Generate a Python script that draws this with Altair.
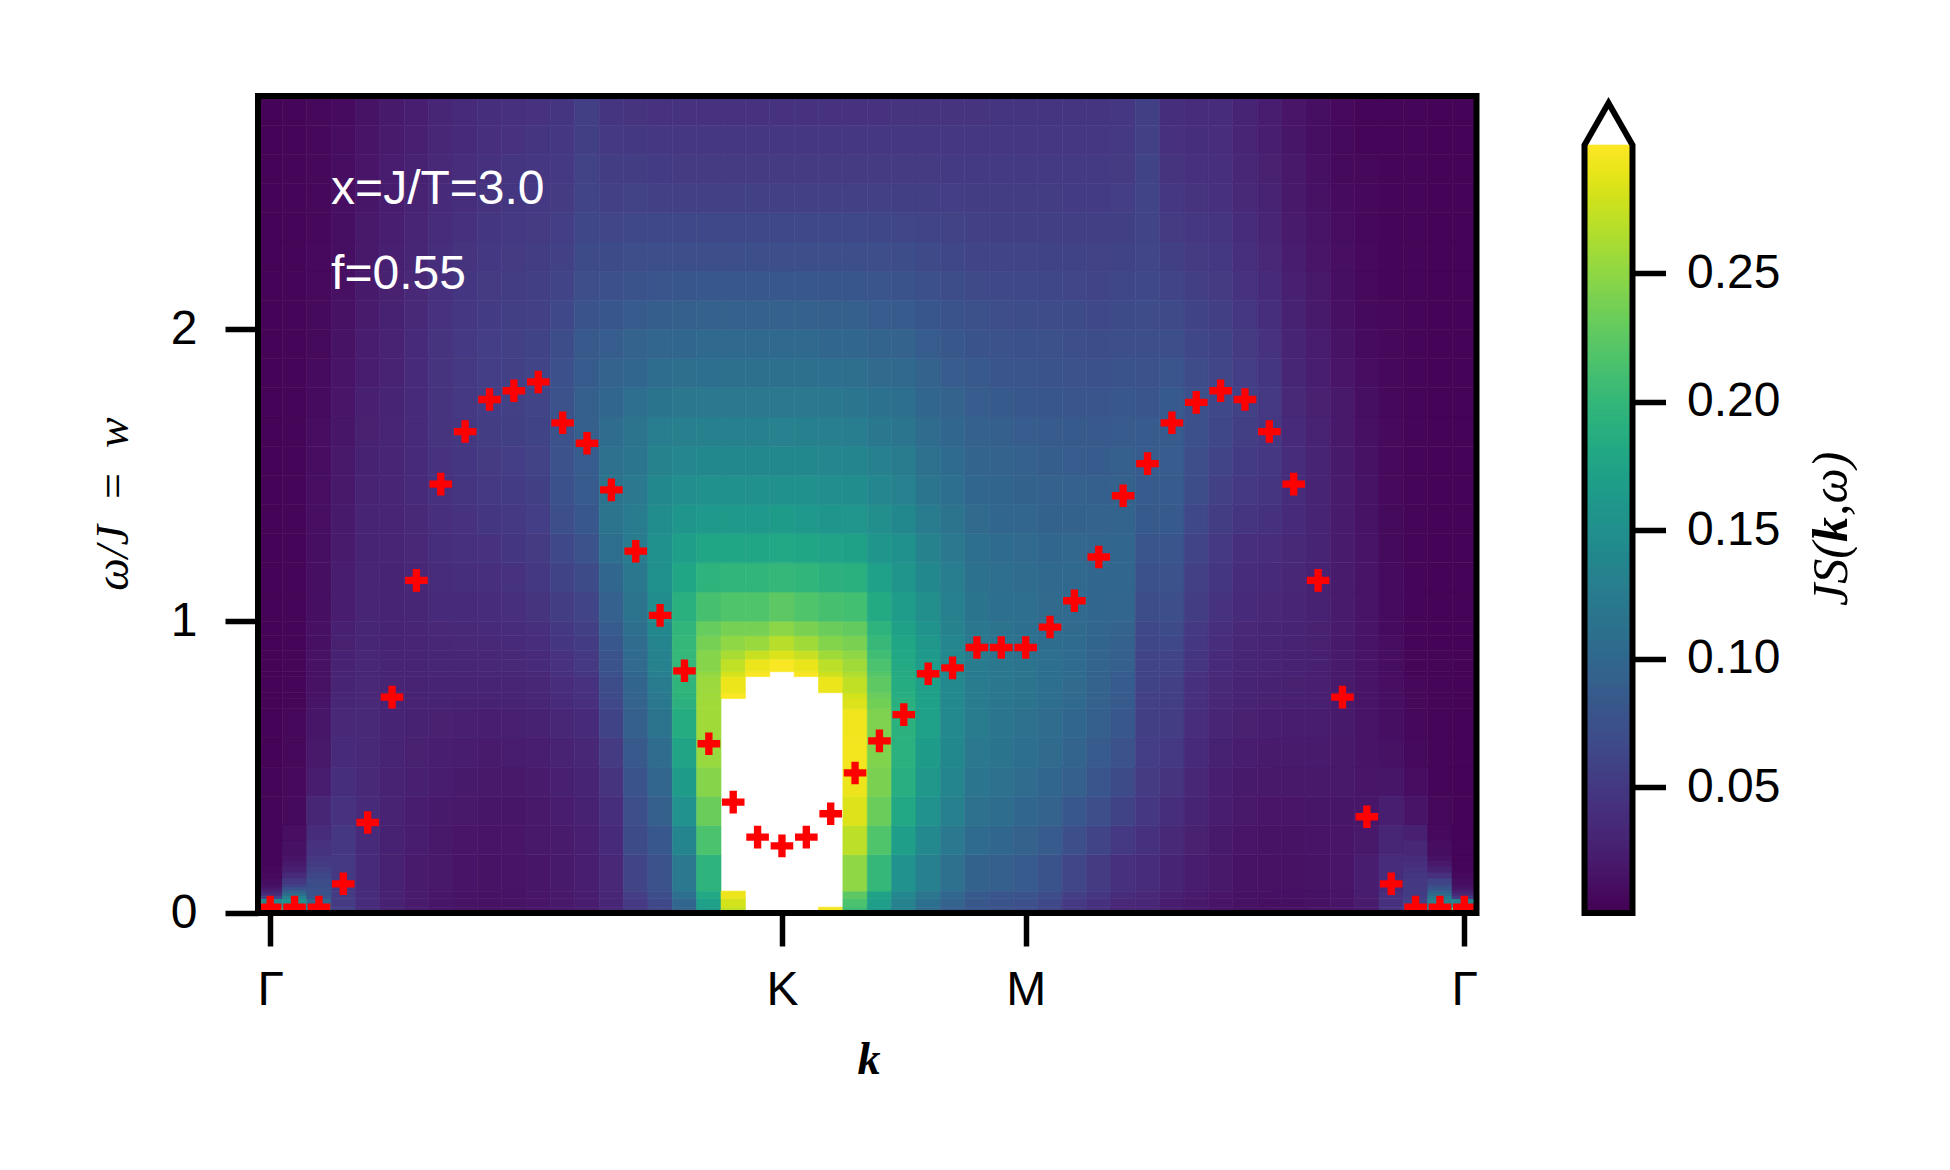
import altair as alt
import numpy as np
import pandas as pd

FONT = "Liberation Sans"
SERIF = "Liberation Serif"
K_TICKS = [0, 21, 31, 49]
K_LABELS = ["Γ", "K", "M", "Γ"]
W_TICKS = [0, 1, 2]
CB_TICKS = [0.05, 0.10, 0.15, 0.20, 0.25]
VMIN, VMAX = 0.001, 0.3

# red crosses: omega position for each k index
peak_w = [0.02, 0.02, 0.02, 0.10, 0.31, 0.74, 1.14, 1.47, 1.65, 1.76,
          1.79, 1.82, 1.68, 1.61, 1.45, 1.24, 1.02, 0.83, 0.58, 0.38,
          0.26, 0.23, 0.26, 0.34, 0.48, 0.59, 0.68, 0.82, 0.84, 0.91,
          0.91, 0.91, 0.98, 1.07, 1.22, 1.43, 1.54, 1.68, 1.75, 1.79,
          1.76, 1.65, 1.47, 1.14, 0.74, 0.33, 0.10, 0.02, 0.02, 0.02]

# omega bin edges of the map
w_edges = [0, .01, .02, .05, .075, .2, .3, .4, .5, .6, .7, .735, .755, .81, .827,
           .87, .9, .95, 1.0, 1.1, 1.2, 1.3, 1.4, 1.5, 1.6, 1.7, 1.8, 1.9, 2.0,
           2.1, 2.2, 2.3, 2.4, 2.5, 2.6, 2.7, 2.8]

# JS(k,w) x 1000, bottom to top, one list per k index; 999 = above colour range
col00 = [400,230,140,60,14,5,4,4,3,3,3,3,3,3,3,3,3,3, 3,3,3,3,3,3,3,3,3,3,3,3,3,3,3,3,3,3]
col01 = [150,150,150,110,40,12,8,7,6,6,5,5,5,5,5,5,5,5, 5,5,5,5,5,5,4,4,4,4,4,4,4,4,5,5,5,5]
col02 = [150,130,100,85,60,45,32,24,20,18,16,15,14,14,14,14,13,13, 12,12,12,11,11,10,10,9,9,8,8,7,7,6,6,6,6,6]
col03 = [55,55,52,52,50,48,44,40,36,34,32,31,30,29,29,28,27,26, 24,23,22,21,20,19,18,17,16,15,14,13,12,12,11,10,10,9]
col04 = [38,38,38,38,37,36,36,35,35,35,34,34,34,33,33,33,32,32, 31,31,30,30,29,28,27,26,24,23,22,21,20,19,18,17,16,15]
col05 = [28,28,28,28,28,28,29,29,30,30,30,30,30,30,30,30,30,30, 30,30,31,31,31,31,31,30,29,29,28,27,26,25,24,23,22,21]
col06 = [22,22,22,22,22,23,24,26,27,28,29,29,29,30,30,30,31,31, 32,33,34,35,36,37,37,37,37,36,35,34,32,31,29,28,26,25]
col07 = [18,18,18,18,19,19,21,23,25,27,29,30,30,31,32,32,33,34, 36,38,40,41,43,44,45,45,45,45,44,42,40,38,36,35,33,32]
col08 = [15,15,15,15,16,17,19,21,23,26,28,29,30,31,32,32,34,35, 37,40,42,44,46,47,49,50,50,50,48,47,45,43,40,39,37,36]
col09 = [14,14,14,14,15,16,18,20,22,25,28,29,30,32,33,33,35,36, 38,41,44,47,50,52,54,55,55,55,53,52,49,47,45,43,41,40]
col10 = [15,15,15,15,16,17,18,20,23,26,29,30,31,33,35,35,37,38, 41,44,47,50,53,55,57,58,58,58,56,54,52,50,47,46,44,42]
col11 = [17,17,17,17,18,19,20,22,25,28,31,32,33,35,37,37,39,41, 45,49,52,55,57,59,60,61,61,60,58,56,54,52,50,48,46,44]
col12 = [20,20,20,20,21,22,24,26,29,33,37,38,39,42,44,44,47,49, 54,60,66,72,75,76,76,76,74,70,66,62,58,55,52,50,48,46]
col13 = [24,24,24,24,25,26,28,30,33,37,41,43,44,47,50,50,53,56, 61,68,76,82,86,88,90,90,87,84,78,72,68,64,61,59,57,56]
col14 = [32,32,32,32,34,36,40,45,52,60,66,68,70,74,78,78,82,86, 92,100,108,114,114,112,106,100,94,88,81,74,68,63,58,54,50,46]
col15 = [45,48,50,55,62,68,72,78,84,90,94,96,97,100,103,103,106,109, 114,120,124,124,122,118,114,108,100,94,86,78,71,65,59,54,49,45]
col16 = [62,64,66,70,76,82,90,98,106,114,120,122,124,128,132,132,136,140, 146,150,150,146,140,133,126,116,107,98,89,80,72,65,58,53,48,44]
col17 = [92,94,100,110,122,136,152,164,176,186,192,194,196,199,200,200,200,198, 190,178,168,158,147,138,128,119,109,100,91,81,72,65,58,52,48,44]
col18 = [160,165,170,180,195,215,232,246,254,258,258,257,256,252,246,246,238,230, 212,195,178,162,150,140,130,122,110,102,92,82,72,65,58,52,48,44]
col19 = [265,272,280,292,999,999,999,999,999,999,999,298,292,282,272,262,250,238, 218,197,178,163,150,140,130,122,111,102,92,82,72,65,58,52,48,44]
col20 = [999,999,999,999,999,999,999,999,999,999,999,999,999,298,292,275,255,238, 218,197,178,162,150,140,130,122,111,102,92,82,72,65,58,52,48,44]
col21 = [999,999,999,999,999,999,999,999,999,999,999,999,999,999,298,285,268,248, 225,200,180,164,151,141,131,122,111,102,92,82,72,65,58,52,48,44]
col22 = [999,999,999,999,999,999,999,999,999,999,999,999,999,298,290,275,258,240, 218,197,178,162,150,140,130,122,111,102,92,82,72,65,58,52,48,44]
col23 = [296,296,999,999,999,999,999,999,999,999,999,999,292,278,270,258,245,232, 212,192,174,158,147,138,128,120,110,100,91,81,72,65,58,52,48,44]
col24 = [200,205,215,225,250,270,285,292,295,294,285,280,272,265,258,250,240,228, 210,190,172,157,146,136,127,118,109,100,90,81,72,65,58,52,48,44]
col25 = [160,163,168,172,200,218,232,240,243,242,236,232,226,220,215,208,202,195, 183,170,158,148,138,129,121,113,104,96,88,79,71,64,58,52,48,44]
col26 = [125,128,132,138,152,168,180,188,191,192,190,188,186,184,182,180,178,172, 165,156,150,140,131,124,117,110,102,94,86,78,70,63,57,52,48,45]
col27 = [100,104,110,118,130,142,152,160,166,170,171,170,168,167,165,163,160,155, 148,140,134,125,118,112,106,100,94,88,81,74,67,61,56,52,48,45]
col28 = [85,88,94,100,112,122,130,136,140,142,142,142,142,141,141,140,138,134, 130,126,122,115,110,105,100,94,88,83,77,70,64,59,55,51,48,45]
col29 = [80,81,83,85,95,105,112,118,122,124,125,125,125,125,124,124,122,120, 116,113,110,104,100,96,92,88,84,78,73,67,62,58,54,51,48,45]
col30 = [75,76,78,80,90,100,107,112,116,118,119,120,120,120,119,118,116,114, 110,108,105,100,97,94,90,85,80,76,71,66,61,57,54,51,48,46]
col31 = [70,71,74,78,86,93,100,106,110,112,114,114,115,115,114,113,112,110, 108,106,103,98,95,92,88,83,79,75,70,65,61,57,54,51,48,46]
col32 = [60,62,65,70,78,86,94,100,104,106,108,108,110,110,110,108,107,106, 104,102,100,95,92,89,86,81,77,73,69,64,60,57,54,51,48,46]
col33 = [45,47,50,56,63,72,82,90,96,100,102,103,104,105,105,105,105,104, 103,102,99,95,92,88,85,80,76,72,68,63,60,56,53,51,48,46]
col34 = [40,41,43,47,52,62,72,80,86,90,92,93,94,95,96,96,97,98, 100,100,98,94,91,87,84,79,75,70,66,62,59,56,53,51,48,46]
col35 = [30,32,34,38,42,50,60,68,76,82,85,86,87,88,90,90,92,94, 98,100,100,96,93,90,86,82,77,72,68,64,60,57,55,52,50,48]
col36 = [32,32,33,34,38,43,48,52,55,57,58,58,60,60,62,62,64,66, 70,75,80,85,87,88,86,80,76,72,69,66,63,62,61,60,58,57]
col37 = [22,23,24,26,30,35,40,45,50,54,56,57,58,60,62,62,65,68, 72,76,80,85,87,88,87,85,79,72,67,62,57,52,48,45,42,40]
col38 = [20,20,20,21,24,27,30,33,36,39,41,42,43,44,46,46,48,50, 54,58,62,66,70,72,74,74,69,64,60,56,52,48,45,42,40,38]
col39 = [16,16,16,17,19,21,23,25,28,31,33,34,35,36,37,37,39,41, 44,47,50,54,58,62,64,66,63,60,56,52,49,46,43,41,39,38]
col40 = [13,13,14,14,15,17,19,21,24,27,29,30,30,31,32,32,33,34, 36,38,41,46,50,53,56,58,55,52,48,44,41,38,35,33,31,30]
col41 = [12,12,12,13,14,15,17,19,22,25,27,28,28,29,30,30,31,32, 34,36,39,43,46,48,49,50,47,44,40,37,34,31,29,27,25,24]
col42 = [12,12,12,13,14,15,17,19,22,24,26,26,27,28,28,28,29,30, 31,33,35,37,38,38,37,35,32,30,28,26,24,22,20,19,18,17]
col43 = [14,14,14,14,15,16,18,20,22,24,26,26,26,26,26,26,27,27, 28,29,30,30,30,30,29,27,25,23,21,19,17,16,14,13,12,12]
col44 = [16,16,16,16,17,17,18,19,20,21,21,21,21,21,21,21,21,22, 22,22,22,22,22,21,20,19,17,15,13,12,11,10,9,8,8,7]
col45 = [18,20,22,24,24,20,18,17,16,16,16,16,16,16,16,16,16,16, 16,16,16,15,15,14,13,12,10,9,8,7,7,6,6,6,5,5]
col46 = [42,42,42,42,38,32,25,18,14,12,12,12,11,11,10,10,10,9, 9,9,8,8,7,7,7,6,6,6,6,5,5,5,5,5,5,5]
col47 = [60,60,58,54,46,28,16,10,8,6,6,6,6,5,5,5,5,5, 5,5,5,5,5,5,5,4,4,4,4,4,4,4,4,4,4,4]
col48 = [150,150,130,110,45,12,6,5,4,4,4,4,4,4,4,4,3,3, 3,3,3,3,3,3,3,3,3,3,3,3,3,3,3,3,3,3]
col49 = [400,230,130,40,8,4,3,3,3,3,3,3,3,3,3,3,3,3, 3,3,3,3,3,3,3,3,3,3,3,3,3,3,3,3,3,3]
columns = [col00, col01, col02, col03, col04, col05, col06, col07, col08, col09,
           col10, col11, col12, col13, col14, col15, col16, col17, col18, col19,
           col20, col21, col22, col23, col24, col25, col26, col27, col28, col29,
           col30, col31, col32, col33, col34, col35, col36, col37, col38, col39,
           col40, col41, col42, col43, col44, col45, col46, col47, col48, col49]
assert all(len(c) == len(w_edges) - 1 for c in columns)

# finer read-out of the small bright spots next to the two Gamma points
fine_edges = [.05, .06, .07, .08, .09, .1, .12, .14, .16, .18, .2, .25, .3]
fine_k = [0, 1, 2, 47, 48, 49]
fine00 = [60, 40, 28, 20, 14, 10, 7, 6, 5, 5, 5, 4]
fine01 = [130, 110, 90, 75, 60, 48, 36, 26, 20, 16, 13, 11]
fine02 = [80, 78, 76, 74, 72, 70, 64, 58, 52, 48, 44, 38]
fine47 = [55, 54, 53, 52, 51, 50, 47, 44, 41, 38, 33, 26]
fine48 = [120, 105, 92, 80, 70, 60, 42, 28, 20, 14, 10, 7]
fine49 = [50, 35, 25, 18, 14, 10, 7, 5, 4, 4, 4, 3]
fine_cols = [fine00, fine01, fine02, fine47, fine48, fine49]

ann_k = [2.5, 2.5]
ann_w = [2.43, 2.137]
ann_text = ["x=J/T=3.0", "f=0.55"]

rows = []
for i, col in enumerate(columns):
    for j, v in enumerate(col):
        if v / 1000 <= 0.301:      # larger values are drawn in the white "over" colour
            rows.append(dict(k0=i - .5, k1=i + .5, w0=w_edges[j], w1=w_edges[j + 1], v=v / 1000))
for i, col in zip(fine_k, fine_cols):
    for j, v in enumerate(col):
        rows.append(dict(k0=i - .5, k1=i + .5, w0=fine_edges[j], w1=fine_edges[j + 1], v=v / 1000))
heat_df = pd.DataFrame(rows)
peak_df = pd.DataFrame({"k": list(range(50)), "w": peak_w})
ann_df = pd.DataFrame({"k": ann_k, "w": ann_w, "t": ann_text})

W, H = 1218.5, 817
x_scale = alt.Scale(domain=[-0.5, 49.5], nice=False, zero=False)
y_scale = alt.Scale(domain=[0, 2.8], nice=False, zero=False)
col_scale = alt.Scale(scheme="viridis", domain=[VMIN, VMAX], clamp=True)

label_map = "{" + ",".join(f"'{k}':'{l}'" for k, l in zip(K_TICKS, K_LABELS)) + "}[datum.value]"
x_axis = alt.Axis(
    values=K_TICKS, labelExpr=label_map, title=None, grid=False, domain=False,
    tickSize=33, tickWidth=5.5, tickColor="black", labelFontSize=48, labelFont=FONT,
    labelColor="black", labelPadding=20, labelAngle=0, labelFlush=False, labelOverlap=False)
y_axis = alt.Axis(
    values=W_TICKS, format="d", title=None, grid=False, domain=False,
    tickSize=33, tickWidth=5.5, tickColor="black", labelFontSize=48, labelFont=FONT,
    labelColor="black", labelPadding=28, labelFlush=False, labelOverlap=False)

heat = alt.Chart(heat_df).mark_rect(strokeWidth=0.6, clip=True).encode(
    x=alt.X("k0:Q", scale=x_scale, axis=x_axis),
    x2="k1:Q",
    y=alt.Y("w0:Q", scale=y_scale, axis=y_axis),
    y2="w1:Q",
    color=alt.Color("v:Q", scale=col_scale, legend=None),
    stroke=alt.Color("v:Q", scale=col_scale, legend=None),
)

PLUS = "M-1,-.325H-.325V-1H.325V-.325H1V.325H.325V1H-.325V.325H-1Z"
peaks = alt.Chart(peak_df).mark_point(shape=PLUS, filled=True, color="#ff0000", opacity=1,
                                      size=511, clip=True).encode(
    x=alt.X("k:Q", scale=x_scale, axis=x_axis),
    y=alt.Y("w:Q", scale=y_scale, axis=y_axis),
)
ann = alt.Chart(ann_df).mark_text(color="white", font=FONT, fontSize=48, align="left",
                                  baseline="alphabetic").encode(
    x=alt.X("k:Q", scale=x_scale, axis=x_axis),
    y=alt.Y("w:Q", scale=y_scale, axis=y_axis),
    text="t:N",
)
frame = alt.Chart(pd.DataFrame({"a": [0]})).mark_rect(fillOpacity=0, stroke="black", strokeWidth=6).encode(
    x=alt.value(0), x2=alt.value(W), y=alt.value(0), y2=alt.value(H))

def label(text, x, y, angle=0, style="italic", weight="normal", align="center", size=46):
    return alt.Chart(pd.DataFrame({"t": [text]})).mark_text(
        font=SERIF, fontSize=size, fontStyle=style, fontWeight=weight, angle=angle,
        align=align, baseline="alphabetic", color="black").encode(
        x=alt.value(x), y=alt.value(y), text="t:N")

ytitle = label("ω/J\u2002=\u2002w", -130, 408, angle=270)
xtitle = label("k", 611, 978, weight="bold")

main = alt.layer(heat, peaks, ann, frame, ytitle, xtitle).properties(width=W, height=H)

# colour bar
CB_TOP = VMAX + 49 / (768 / (VMAX - VMIN))
CB_TIP = VMAX + 42 / (768 / (VMAX - VMIN))
levels = np.linspace(VMIN, VMAX, 257)
cb_df = pd.DataFrame({"lo": levels[:-1], "hi": levels[1:], "v": (levels[:-1] + levels[1:]) / 2, "a": 0, "b": 1})
cx = alt.Scale(domain=[0, 1], nice=False, zero=False)
cy = alt.Scale(domain=[VMIN, CB_TOP], nice=False, zero=False)
cb_axis = alt.Axis(
    orient="right", values=CB_TICKS, format=".2f", title=None, grid=False, domain=False,
    tickSize=33, tickWidth=5.5, tickColor="black", labelFontSize=48, labelFont=FONT,
    labelColor="black", labelPadding=21, labelFlush=False, labelOverlap=False)
cb_cells = alt.Chart(cb_df).mark_rect(strokeWidth=0.6).encode(
    x=alt.X("a:Q", scale=cx, axis=None), x2="b:Q",
    y=alt.Y("lo:Q", scale=cy, axis=cb_axis),
    y2="hi:Q",
    color=alt.Color("v:Q", scale=col_scale, legend=None),
    stroke=alt.Color("v:Q", scale=col_scale, legend=None),
)
outline_x = [0, 0, 0.5, 1, 1, 0]
outline_y = [VMIN, VMAX, CB_TIP, VMAX, VMIN, VMIN]
cb_frame = alt.Chart(pd.DataFrame({"x": outline_x, "y": outline_y, "o": range(6)})).mark_line(
    color="black", strokeWidth=6, strokeJoin="miter", strokeCap="square").encode(
    x=alt.X("x:Q", scale=cx, axis=None),
    y=alt.Y("y:Q", scale=cy, axis=cb_axis),
    order="o:Q",
)
X_LAB = 262
cb_title = [
    label("JS(", X_LAB, 510, angle=270, align="left", size=50),
    label("k", X_LAB, 510 - 64, angle=270, weight="bold", align="left", size=50),
    label(",ω)", X_LAB, 510 - 90, angle=270, align="left", size=50),
]
cbar = alt.layer(cb_cells, cb_frame, *cb_title).properties(width=48, height=H)

chart = alt.hconcat(main, cbar, spacing=107.5, bounds="flush").properties(
    padding={"left": 83, "top": 83, "right": 0, "bottom": 0},
    background="white",
).configure_view(stroke=None)

chart.save("out.html", embed_options={"renderer": "svg", "actions": False})
